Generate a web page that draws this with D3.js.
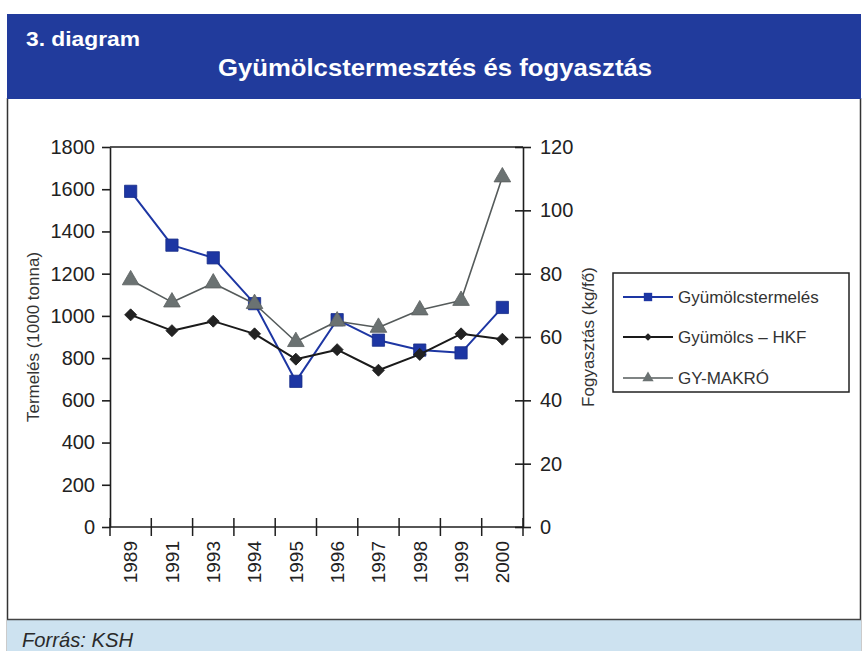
<!DOCTYPE html>
<html>
<head>
<meta charset="utf-8">
<script src="https://cdn.jsdelivr.net/npm/d3@7"></script>
<style>
  html, body { margin: 0; padding: 0; background: #ffffff; }
  svg { display: block; font-family: "Liberation Sans", Arial, Helvetica, sans-serif; }
</style>
</head>
<body>
<svg id="chart" width="865" height="651"></svg>
<script>
// ---- data ----
const years = ["1989", "1991", "1993", "1994", "1995", "1996", "1997", "1998", "1999", "2000"];
const termeles = [1590, 1335, 1275, 1058, 690, 982, 885, 838, 825, 1040];   // 1000 tonna, left axis
const hkf = [67, 62, 65, 61, 53, 56, 49.5, 54.5, 61, 59.3];                  // kg/fő, right axis
const makro = [78, 71, 77, 70.5, 58.5, 65, 63, 68.5, 71.5, 110.5];           // kg/fő, right axis
const leftTicks = [0, 200, 400, 600, 800, 1000, 1200, 1400, 1600, 1800];
const rightTicks = [0, 20, 40, 60, 80, 100, 120];
const seriesNames = ["Gyümölcstermelés", "Gyümölcs – HKF", "GY-MAKRÓ"];
const headerLabel = "3. diagram";
const titleText = "Gyümölcstermesztés és fogyasztás";
const leftTitle = "Termelés (1000 tonna)";
const rightTitle = "Fogyasztás (kg/fő)";
const sourceText = "Forrás: KSH";

// ---- layout ----
const svg = d3.select("#chart");
const W = 865, H = 651;
const plot = { left: 110, right: 523, top: 147, bottom: 527 };
const axisColor = "#1e1e1e";
const blue = "#1d36a3", black = "#1a1a1a", gray = "#6b7272";

svg.append("rect").attr("x", 0).attr("y", 0).attr("width", W).attr("height", H).attr("fill", "#fff");
svg.append("line").attr("x1", 7.5).attr("x2", 7.5).attr("y1", 98).attr("y2", 651).attr("stroke", "#333").attr("stroke-width", 1.5);
svg.append("line").attr("x1", 860.5).attr("x2", 860.5).attr("y1", 98).attr("y2", 651).attr("stroke", "#333").attr("stroke-width", 1.5);

// header
svg.append("rect").attr("x", 7).attr("y", 14).attr("width", 854).attr("height", 85).attr("fill", "#213b9c");
svg.append("text").attr("x", 26).attr("y", 46).attr("fill", "#fff").attr("font-weight", "bold")
  .attr("font-size", 20).attr("textLength", 114).attr("lengthAdjust", "spacingAndGlyphs").text(headerLabel);
svg.append("text").attr("x", 218).attr("y", 76).attr("fill", "#fff").attr("font-weight", "bold")
  .attr("font-size", 24).attr("textLength", 434).attr("lengthAdjust", "spacingAndGlyphs").text(titleText);

// footer
svg.append("rect").attr("x", 7).attr("y", 619).attr("width", 854).attr("height", 32).attr("fill", "#cde2f0");
svg.append("line").attr("x1", 7).attr("x2", 861).attr("y1", 619.5).attr("y2", 619.5).attr("stroke", "#444").attr("stroke-width", 1.5);
svg.append("text").attr("x", 22).attr("y", 647).attr("fill", "#2a2a2a").attr("font-style", "italic")
  .attr("font-size", 21).attr("textLength", 111).attr("lengthAdjust", "spacingAndGlyphs").text(sourceText);

// ---- scales ----
const x = d3.scaleBand().domain(years).range([plot.left, plot.right]);
const yL = d3.scaleLinear().domain([0, 1800]).range([plot.bottom, plot.top]);
const yR = d3.scaleLinear().domain([0, 120]).range([plot.bottom, plot.top]);
const cx = d => x(d) + x.bandwidth() / 2;

// ---- axes ----
const gL = svg.append("g").attr("transform", `translate(${plot.left},0)`)
  .call(d3.axisLeft(yL).tickValues(leftTicks).tickFormat(d3.format("d")).tickSizeInner(8).tickSizeOuter(0).tickPadding(7));
gL.selectAll("text").attr("font-size", 20).attr("fill", "#222").attr("font-family", "Liberation Sans, Arial, sans-serif");

const gR = svg.append("g").attr("transform", `translate(${plot.right},0)`)
  .call(d3.axisRight(yR).tickValues(rightTicks).tickFormat(d3.format("d")).tickSizeInner(8).tickSizeOuter(0).tickPadding(9));
gR.selectAll(".tick line").attr("x1", -8);
gR.selectAll("text").attr("font-size", 20).attr("fill", "#222").attr("font-family", "Liberation Sans, Arial, sans-serif");

const gB = svg.append("g").attr("transform", `translate(0,${plot.bottom})`)
  .call(d3.axisBottom(x).tickSize(0).tickPadding(0));
gB.select(".domain").remove();
gB.selectAll("text")
  .attr("font-size", 19).attr("fill", "#222").attr("font-family", "Liberation Sans, Arial, sans-serif")
  .attr("text-anchor", "end").attr("transform", "rotate(-90)")
  .attr("x", -14).attr("y", 0).attr("dy", "0.36em");

[gL, gR].forEach(g => {
  g.selectAll(".domain, .tick line").attr("stroke", axisColor).attr("stroke-width", 1.6);
});

svg.append("line").attr("x1", plot.left).attr("x2", plot.right).attr("y1", plot.bottom).attr("y2", plot.bottom)
  .attr("stroke", axisColor).attr("stroke-width", 1.6);
svg.append("line").attr("x1", plot.left).attr("x2", plot.right).attr("y1", plot.top).attr("y2", plot.top)
  .attr("stroke", axisColor).attr("stroke-width", 1.4);
const bounds = years.map(d => x(d)).concat([plot.right]);
svg.append("g").selectAll("line").data(bounds).join("line")
  .attr("x1", d => d).attr("x2", d => d)
  .attr("y1", plot.bottom - 9).attr("y2", plot.bottom + 9)
  .attr("stroke", axisColor).attr("stroke-width", 1.5);

// axis titles
svg.append("text").attr("transform", `translate(39,${(plot.top + plot.bottom) / 2}) rotate(-90)`)
  .attr("text-anchor", "middle").attr("font-size", 17).attr("fill", "#333").text(leftTitle);
svg.append("text").attr("transform", `translate(594,${(plot.top + plot.bottom) / 2}) rotate(-90)`)
  .attr("text-anchor", "middle").attr("font-size", 17).attr("fill", "#333").text(rightTitle);

// ---- series ----
const squareSym = d3.symbol().type(d3.symbolSquare);
const series = [
  { name: seriesNames[0], vals: termeles, y: yL, color: blue, fill: blue, width: 2, sym: squareSym.size(150)(), rot: 0 },
  { name: seriesNames[1], vals: hkf, y: yR, color: black, fill: "#222", width: 2, sym: d3.symbol().type(d3.symbolSquare).size(72)(), rot: 45 },
  { name: seriesNames[2], vals: makro, y: yR, color: "#555b5b", fill: gray, width: 1.6, sym: d3.symbol().type(d3.symbolTriangle).size(120)(), rot: 0 }
];

series.forEach(s => {
  const line = d3.line().x((v, i) => cx(years[i])).y(v => s.y(v));
  svg.append("path").attr("d", line(s.vals)).attr("fill", "none")
    .attr("stroke", s.color).attr("stroke-width", s.width).attr("stroke-linejoin", "round");
  svg.append("g").selectAll("path").data(s.vals).join("path")
    .attr("d", s.sym)
    .attr("transform", (v, i) => `translate(${cx(years[i])},${s.y(v)}) rotate(${s.rot})`)
    .attr("fill", s.fill).attr("stroke", d3.color(s.fill).darker(0.5)).attr("stroke-width", 0.8);
});

// ---- legend ----
const lg = svg.append("g");
lg.append("rect").attr("x", 613).attr("y", 273).attr("width", 236).attr("height", 119)
  .attr("fill", "#fff").attr("stroke", "#222").attr("stroke-width", 1.5);
const lsym = [
  { d: d3.symbol().type(d3.symbolSquare).size(70)(), rot: 0 },
  { d: d3.symbol().type(d3.symbolSquare).size(30)(), rot: 45 },
  { d: d3.symbol().type(d3.symbolTriangle).size(55)(), rot: 0 }
];
const rowsY = [297, 337, 378];
series.forEach((s, i) => {
  lg.append("line").attr("x1", 623).attr("x2", 673).attr("y1", rowsY[i]).attr("y2", rowsY[i])
    .attr("stroke", s.color).attr("stroke-width", i === 2 ? 1.3 : 1.8);
  lg.append("path").attr("d", lsym[i].d).attr("transform", `translate(648,${rowsY[i]}) rotate(${lsym[i].rot})`).attr("fill", s.fill);
  lg.append("text").attr("x", 678).attr("y", rowsY[i]).attr("dy", "0.36em")
    .attr("font-size", 17).attr("fill", "#333").text(s.name);
});
</script>
</body>
</html>
